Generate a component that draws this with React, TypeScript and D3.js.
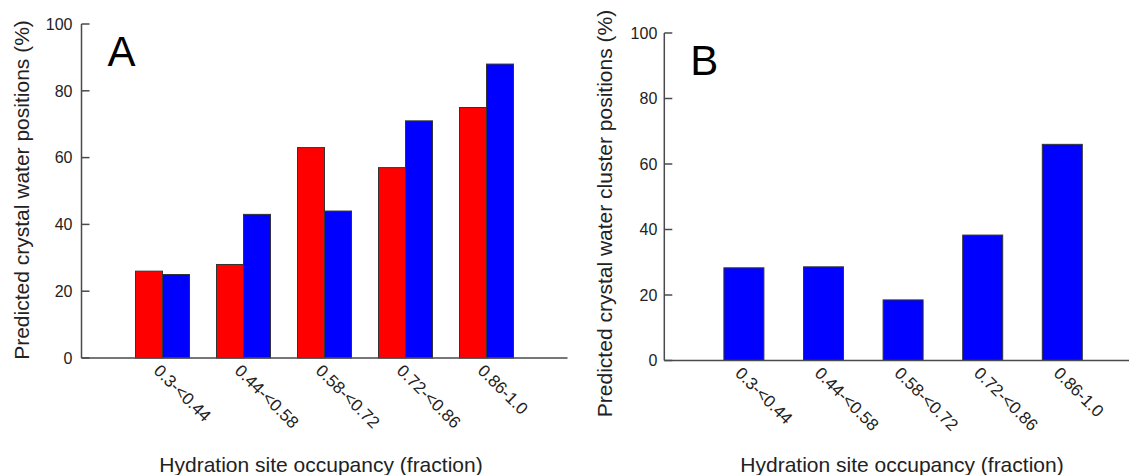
import React from 'react';
import * as d3 from 'd3';

// occupancy bins shared by both panels
const bins = ['0.3-<0.44', '0.44-<0.58', '0.58-<0.72', '0.72-<0.86', '0.86-1.0'];
// panel A: two series per bin
const redA = [26, 28, 63, 57, 75];
const blueA = [25, 43, 44, 71, 88];
// panel B: single series
const blueB = [28.3, 28.6, 18.5, 38.3, 66];
const yTicks = [0, 20, 40, 60, 80, 100];

const FONT = '"Liberation Sans", Arial, sans-serif';
const AXIS = '#4a4a4a';
const TEXT = '#222';

type Panel = {
  letter: string;
  yTitle: string;
  left: number;
  top: number;
  bottom: number;
  step: number;
  barW: number;
  series: { values: number[]; color: string }[];
  tickGap: number;
  titleX: number;
  titleY: number;
  xTitleX: number;
};

const panels: Panel[] = [
  {
    letter: 'A',
    yTitle: 'Predicted crystal water positions (%)',
    left: 81.5,
    top: 24,
    bottom: 358,
    step: 81,
    barW: 27,
    series: [
      { values: redA, color: '#ff0000' },
      { values: blueA, color: '#0000ff' },
    ],
    tickGap: 9,
    titleX: 28.5,
    titleY: 190,
    xTitleX: 321,
  },
  {
    letter: 'B',
    yTitle: 'Predicted crystal water cluster positions (%)',
    left: 664.3,
    top: 33,
    bottom: 360.5,
    step: 79.6,
    barW: 40,
    series: [{ values: blueB, color: '#0000ff' }],
    tickGap: 7,
    titleX: 612,
    titleY: 213.5,
    xTitleX: 902,
  },
];

const BarPanel = ({ p }: { p: Panel }) => {
  const x = d3.scaleLinear().domain([0, 6]).range([p.left, p.left + 6 * p.step]);
  const y = d3.scaleLinear().domain([0, 100]).range([p.bottom, p.top]);
  const n = p.series.length;
  const offset = d3
    .scaleBand<number>()
    .domain(d3.range(n))
    .range([-(n * p.barW) / 2, (n * p.barW) / 2]);

  return (
    <g>
      {p.series.map((s, si) =>
        s.values.map((v, i) => (
          <rect
            key={`${si}-${i}`}
            x={x(i + 1) + (offset(si) ?? 0)}
            y={y(v)}
            width={offset.bandwidth()}
            height={y(0) - y(v)}
            fill={s.color}
            stroke="#333"
            strokeWidth={1}
          />
        ))
      )}
      {/* axes */}
      <line x1={p.left} x2={p.left} y1={y(100)} y2={y(0)} stroke={AXIS} strokeWidth={1.5} />
      <line x1={p.left} x2={x(6)} y1={y(0)} y2={y(0)} stroke={AXIS} strokeWidth={1.5} />
      {yTicks.map((t) => (
        <g key={t}>
          <line x1={p.left} x2={p.left + 8} y1={y(t)} y2={y(t)} stroke={AXIS} strokeWidth={1.5} />
          <text
            x={p.left - p.tickGap}
            y={y(t)}
            dy="0.36em"
            textAnchor="end"
            fontSize={16}
            fill={TEXT}
          >
            {t}
          </text>
        </g>
      ))}
      {bins.map((b, i) => (
        <text
          key={b}
          transform={`translate(${x(i + 1) - 1},${y(0) + 5}) rotate(45)`}
          dy="0.72em"
          textAnchor="start"
          fontSize={17}
          fill={TEXT}
        >
          {b}
        </text>
      ))}
      <text
        transform={`translate(${p.titleX},${p.titleY}) rotate(-90)`}
        textAnchor="middle"
        fontSize={21}
        fill={TEXT}
      >
        {p.yTitle}
      </text>
      <text x={p.xTitleX} y={471.5} textAnchor="middle" fontSize={21} fill={TEXT}>
        Hydration site occupancy (fraction)
      </text>
      <text x={p.left + 26} y={p.top + 42} fontSize={42} fill="#000">
        {p.letter}
      </text>
    </g>
  );
};

export default function App() {
  return (
    <svg
      width={1129}
      height={475}
      style={{ position: 'absolute', left: 0, top: 0, background: '#fff' }}
      fontFamily={FONT}
    >
      {panels.map((p) => (
        <BarPanel key={p.letter} p={p} />
      ))}
    </svg>
  );
}
